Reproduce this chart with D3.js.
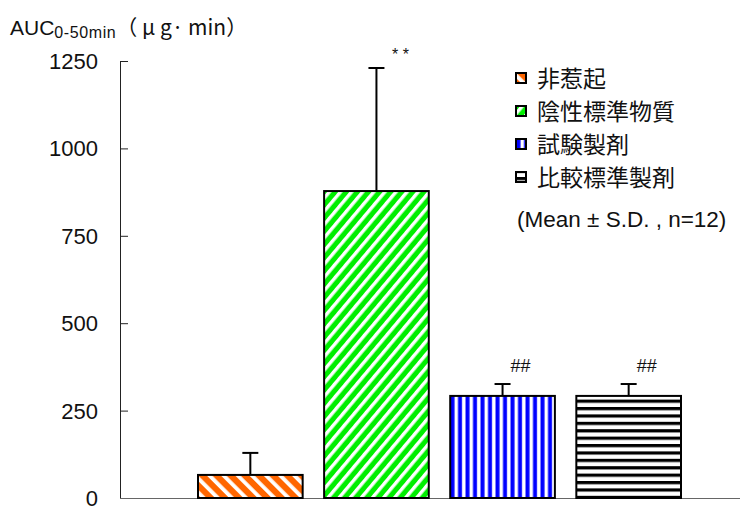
<!DOCTYPE html>
<html>
<head>
<meta charset="utf-8">
<script src="https://cdn.jsdelivr.net/npm/d3@7"></script>
<style>
  html, body { margin: 0; padding: 0; background: #fff; }
  svg { display: block; }
  text { font-family: "Liberation Sans", Arial, "Noto Sans CJK JP", sans-serif; fill: #111; }
  .cjk { font-family: "Noto Sans CJK JP", sans-serif; }
</style>
</head>
<body>
<svg id="chart" width="752" height="506"></svg>
<script>
// Groups, means, SDs and significance markers
const groups = ["非惹起", "陰性標準物質", "試験製剤", "比較標準製剤"];
const means = [66, 878, 292, 292];
const sds = [63, 352, 34, 34];
const marks = ["", "* *", "##", "##"];
const yTicks = [0, 250, 500, 750, 1000, 1250];

const svg = d3.select("#chart");
const defs = svg.append("defs");

// Hatch fills for each group
function hatch(id, w, h, bg, fg, draw, rot) {
  const p = defs.append("pattern")
    .attr("id", id).attr("patternUnits", "userSpaceOnUse")
    .attr("width", w).attr("height", h);
  if (rot) p.attr("patternTransform", `rotate(${rot})`);
  p.append("rect").attr("width", w).attr("height", h).attr("fill", bg);
  draw(p, fg);
}
hatch("p0", 10, 10, "#ff6600", "#fff", (p, c) =>
  p.append("rect").attr("x", 0).attr("y", 0).attr("width", 3.8).attr("height", 10).attr("fill", c), -45);
hatch("p1", 8.5, 8.5, "#00ee00", "#fff", (p, c) =>
  p.append("rect").attr("x", 0).attr("y", 0).attr("width", 3.4).attr("height", 8.5).attr("fill", c), 40);
hatch("p2", 7.5, 10, "#fff", "#0000ff", (p, c) =>
  p.append("rect").attr("x", 0.5).attr("y", 0).attr("width", 4).attr("height", 10).attr("fill", c));
hatch("p3", 10, 7.4, "#fff", "#000", (p, c) =>
  p.append("rect").attr("x", 0).attr("y", 0).attr("width", 10).attr("height", 3.2).attr("fill", c));
const fills = ["url(#p0)", "url(#p1)", "url(#p2)", "url(#p3)"];

const x0 = 120, xEnd = 740, yTop = 61, yBase = 498;

const y = d3.scaleLinear().domain([0, 1250]).range([yBase, yTop]);
const x = d3.scaleBand().domain(groups).range([198, 681]).paddingInner(0.17).paddingOuter(0);

// Y axis with inward ticks
const yAxis = svg.append("g")
  .attr("transform", `translate(${x0},0)`)
  .call(d3.axisRight(y).tickValues(yTicks).tickSize(8).tickFormat(""));
yAxis.select(".domain").remove();
yAxis.selectAll("line").attr("stroke", "#222");
svg.append("line").attr("x1", x0 + 0.5).attr("x2", x0 + 0.5)
  .attr("y1", y(1250)).attr("y2", yBase).attr("stroke", "#222");
svg.selectAll(".ylab").data(yTicks).join("text")
  .attr("x", 98).attr("y", d => y(d) + 8)
  .attr("text-anchor", "end").attr("font-size", 22).text(d => d);

// X baseline
svg.append("line").attr("x1", x0).attr("x2", xEnd)
  .attr("y1", yBase + 0.5).attr("y2", yBase + 0.5).attr("stroke", "#666");

// Error bars (upper half)
const err = svg.selectAll(".err").data(groups).join("g");
err.append("line")
  .attr("x1", (d) => x(d) + x.bandwidth() / 2).attr("x2", (d) => x(d) + x.bandwidth() / 2)
  .attr("y1", (d, i) => y(means[i])).attr("y2", (d, i) => y(means[i] + sds[i]))
  .attr("stroke", "#000").attr("stroke-width", 2);
err.append("line")
  .attr("x1", (d) => x(d) + x.bandwidth() / 2 - 8).attr("x2", (d) => x(d) + x.bandwidth() / 2 + 8)
  .attr("y1", (d, i) => y(means[i] + sds[i])).attr("y2", (d, i) => y(means[i] + sds[i]))
  .attr("stroke", "#000").attr("stroke-width", 2);

// Bars
svg.selectAll(".bar").data(groups).join("rect")
  .attr("x", d => x(d)).attr("width", x.bandwidth())
  .attr("y", (d, i) => y(means[i])).attr("height", (d, i) => yBase - y(means[i]))
  .attr("fill", (d, i) => fills[i]).attr("stroke", "#000").attr("stroke-width", 2);

// Significance markers
svg.selectAll(".sig").data(groups).join("text")
  .attr("x", (d, i) => x(d) + x.bandwidth() / 2 + (i === 1 ? 24 : 18))
  .attr("y", (d, i) => y(means[i] + sds[i]) - (i === 1 ? 8 : 12))
  .attr("text-anchor", "middle").attr("font-size", (d, i) => i === 1 ? 16 : 18)
  .text((d, i) => marks[i]);

// Y axis title
const title = svg.append("text").attr("x", 10).attr("y", 35).attr("font-size", 21);
title.append("tspan").text("AUC");
title.append("tspan").attr("font-size", 16).attr("letter-spacing", 0.6).attr("dy", 3).text("0-50min");
title.append("tspan").attr("dy", -3).attr("class", "cjk").text("（ μ g· min）");

// Legend
const lg = svg.selectAll(".lg").data(groups).join("g")
  .attr("transform", (d, i) => `translate(516,${78 + i * 33})`);
lg.append("rect").attr("x", 0).attr("y", -5).attr("width", 10).attr("height", 10)
  .attr("fill", (d, i) => fills[i]).attr("stroke", "#000").attr("stroke-width", 2);
lg.append("text").attr("x", 21).attr("y", 9).attr("class", "cjk")
  .attr("font-size", 23).text(d => d);

svg.append("text").attr("x", 517).attr("y", 227).attr("font-size", 22.5)
  .text("(Mean ± S.D. , n=12)");
</script>
</body>
</html>
